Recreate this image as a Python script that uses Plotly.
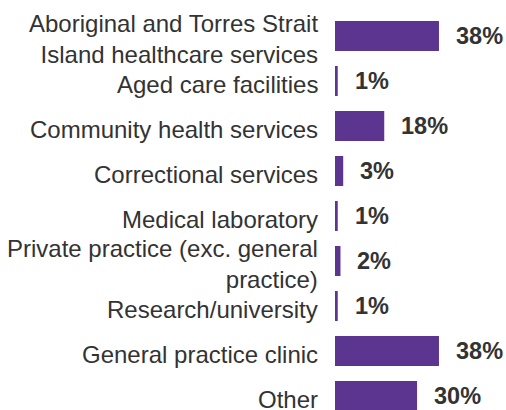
import plotly.graph_objects as go

categories = [
    "Aboriginal and Torres Strait<br>Island healthcare services",
    "Aged care facilities",
    "Community health services",
    "Correctional services",
    "Medical laboratory",
    "Private practice (exc. general<br>practice)",
    "Research/university",
    "General practice clinic",
    "Other",
]
values = [38, 1, 18, 3, 1, 2, 1, 38, 30]
value_labels = ["38%", "1%", "18%", "3%", "1%", "2%", "1%", "38%", "30%"]

BAR = "#5B3590"
TXT = "#333333"
FONT = "Liberation Sans, Arial, sans-serif"

fig = go.Figure()
fig.add_trace(go.Bar(
    x=values, y=categories, orientation="h",
    marker=dict(color=BAR, line=dict(width=0)),
    hoverinfo="skip",
))

for cat, v, lab in zip(categories, values, value_labels):
    # value label to the right of the bar
    fig.add_annotation(
        x=v, y=cat, text="<b>" + lab + "</b>", showarrow=False,
        xanchor="left", yanchor="middle", xshift=15,
        font=dict(family=FONT, size=23.5, color=TXT),
    )
    # category label to the left of the axis
    fig.add_annotation(
        x=0, y=cat, text=cat, showarrow=False, align="right",
        xanchor="right", yanchor="middle", xshift=-15, yshift=-3,
        font=dict(family=FONT, size=24, color=TXT),
    )

fig.update_layout(
    width=506, height=410,
    margin=dict(l=335, r=0, t=0, b=0),
    paper_bgcolor="white", plot_bgcolor="white",
    showlegend=False,
    bargap=1/3,
    xaxis=dict(range=[0, 62.5], visible=False, fixedrange=True),
    yaxis=dict(
        type="category", categoryorder="array", categoryarray=categories,
        range=[8.311, -0.8],
        showgrid=False, zeroline=False, showline=False, ticks="",
        showticklabels=False, automargin=False,
    ),
)

fig.write_html("out.html")
